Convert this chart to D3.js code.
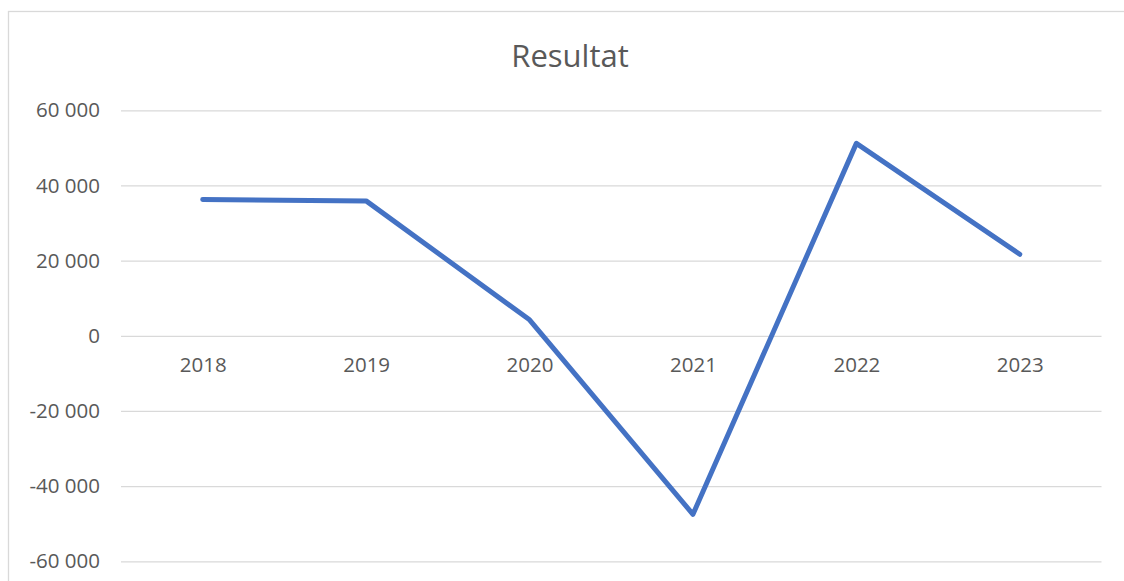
<!DOCTYPE html>
<html>
<head>
<meta charset="utf-8">
<title>Resultat</title>
<script src="https://d3js.org/d3.v7.min.js"></script>
<style>
    html, body { margin: 0; padding: 0; background: #FFFFFF; overflow: hidden; }
    svg { display: block; font-family: 'Open Sans', sans-serif; }
    .tick text { fill: #595959; font-size: 20.5px; font-family: 'Open Sans', sans-serif; }
</style>
</head>
<body>
<svg id="chart"></svg>
<script>
const years = ["2018", "2019", "2020", "2021", "2022", "2023"];
const resultat = [36250, 35900, 4250, -47500, 51200, 21700];
const yTicks = [-60000, -40000, -20000, 0, 20000, 40000, 60000];

const width = 1124, height = 581;

const svg = d3.select("#chart")
    .attr("width", width)
    .attr("height", height);

// chart frame (runs off the right/bottom edge like the screenshot)
svg.append("rect")
    .attr("x", 8.5).attr("y", 11.5)
    .attr("width", 1300).attr("height", 800)
    .attr("fill", "#FFFFFF")
    .attr("stroke", "#D9D9D9")
    .attr("stroke-width", 1.3);

svg.append("text")
    .attr("x", 570).attr("y", 67)
    .attr("text-anchor", "middle")
    .style("font-size", "31px")
    .style("fill", "#595959")
    .text("Resultat");

const x = d3.scalePoint()
    .domain(years)
    .range([121, 1101.5])
    .padding(0.5);

const y = d3.scaleLinear()
    .domain([-60000, 60000])
    .range([561.3, 110.3]);

const fmt = d => d3.format(",")(d).replace(/,/g, " ").replace("−", "-");

// gridlines + y labels
const yAxis = svg.append("g")
    .attr("transform", "translate(121,0)")
    .call(d3.axisLeft(y)
        .tickValues(yTicks)
        .tickSize(-(1101.5 - 121))
        .tickPadding(21)
        .tickFormat(fmt));
yAxis.select(".domain").remove();
yAxis.selectAll(".tick line")
    .attr("stroke", "#D9D9D9")
    .attr("stroke-width", 1.3);

// category labels sit just under the zero line
const xAxis = svg.append("g")
    .attr("transform", `translate(0,${y(0)})`)
    .call(d3.axisBottom(x).tickSize(0).tickPadding(22));
xAxis.select(".domain").remove();

const line = d3.line()
    .x((d, i) => x(years[i]))
    .y(d => y(d));

svg.append("path")
    .datum(resultat)
    .attr("d", line)
    .attr("fill", "none")
    .attr("stroke", "#4472C4")
    .attr("stroke-width", 5)
    .attr("stroke-linecap", "round")
    .attr("stroke-linejoin", "round");
</script>
</body>
</html>
